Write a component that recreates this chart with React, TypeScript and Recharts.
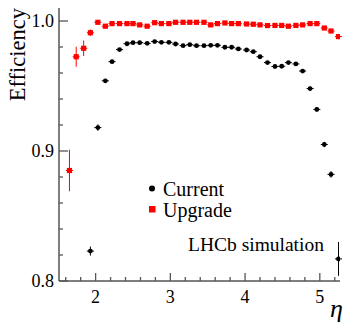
import React from 'react';
import { ScatterChart, Scatter, XAxis, YAxis, ErrorBar } from 'recharts';

// bin centres in eta
const eta = [1.65, 1.74, 1.84, 1.93, 2.03, 2.13, 2.22, 2.32, 2.42, 2.5, 2.59, 2.69, 2.79, 2.88, 2.98, 3.07, 3.17, 3.26, 3.35, 3.45, 3.54, 3.63, 3.73, 3.82, 3.91, 4.02, 4.11, 4.2, 4.3, 4.4, 4.49, 4.58, 4.68, 4.77, 4.87, 4.96, 5.06, 5.15, 5.25];
const halfBin = 0.047;

const upgradeEff = [0.885, 0.9725, 0.979, 0.991, 0.999, 0.996, 0.998, 0.998, 0.998, 0.998, 0.997, 0.996, 0.9987, 0.998, 0.998, 0.999, 0.999, 0.999, 0.999, 0.999, 0.997, 0.998, 0.9985, 0.998, 0.998, 0.9977, 0.9975, 0.997, 0.9965, 0.9966, 0.9966, 0.996, 0.9966, 0.997, 0.998, 0.998, 0.9946, 0.9923, 0.988];
const upgradeErr = [0.016, 0.0077, 0.006, 0.0025, 0.001, 0.001, 0.001, 0.001, 0.001, 0.001, 0.001, 0.001, 0.001, 0.001, 0.001, 0.001, 0.001, 0.001, 0.001, 0.001, 0.001, 0.001, 0.001, 0.001, 0.001, 0.001, 0.001, 0.001, 0.001, 0.001, 0.001, 0.001, 0.001, 0.001, 0.001, 0.001, 0.001, 0.0015, 0.002];

// current detector starts at the 4th bin
const currentEta = eta.slice(3);
const currentEff = [0.823, 0.918, 0.954, 0.9687, 0.978, 0.9825, 0.9833, 0.9833, 0.9828, 0.9842, 0.9836, 0.9836, 0.9823, 0.981, 0.9818, 0.981, 0.981, 0.9813, 0.9813, 0.9798, 0.9798, 0.9785, 0.9777, 0.9764, 0.9725, 0.968, 0.965, 0.9652, 0.968, 0.967, 0.9615, 0.948, 0.932, 0.905, 0.882, 0.817];
const currentErr = [0.0035, 0.0025, 0.0015, 0.0012, 0.001, 0.001, 0.001, 0.001, 0.001, 0.001, 0.001, 0.001, 0.001, 0.001, 0.001, 0.001, 0.001, 0.001, 0.001, 0.001, 0.001, 0.001, 0.001, 0.001, 0.001, 0.001, 0.001, 0.001, 0.001, 0.001, 0.0012, 0.0015, 0.0018, 0.002, 0.0025, 0.013];

const xMajor = [2, 3, 4, 5];
const xTicks = [1.6, 1.8, 2, 2.2, 2.4, 2.6, 2.8, 3, 3.2, 3.4, 3.6, 3.8, 4, 4.2, 4.4, 4.6, 4.8, 5, 5.2];
const yMajor = [0.8, 0.9, 1.0];
const yTicks = [0.8, 0.82, 0.84, 0.86, 0.88, 0.9, 0.92, 0.94, 0.96, 0.98, 1.0];

const upgradeData = eta.map((x, i) => ({ x, y: upgradeEff[i], ey: upgradeErr[i], ex: halfBin }));
const currentData = currentEta.map((x, i) => ({ x, y: currentEff[i], ey: currentErr[i], ex: halfBin }));

const AX = '#555';
const FONT = '"Liberation Serif", "DejaVu Serif", serif';

const isMajor = (v: number, list: number[]) => list.some((m) => Math.abs(m - v) < 1e-6);
const fmtY = (v: number) => v.toFixed(1);

const BottomTick = (p: any) => {
  const { x, y, payload } = p;
  const v = payload.value;
  const major = isMajor(v, xMajor);
  return (
    <g>
      <line x1={x} x2={x} y1={y} y2={y - (major ? 8 : 4)} stroke={AX} strokeWidth={1.3} />
      {major && (
        <text x={x} y={y + 22} textAnchor="middle" fontSize={18} fontFamily={FONT} fill="#000">
          {v}
        </text>
      )}
    </g>
  );
};
const TopTick = (p: any) => {
  const { x, y, payload } = p;
  const major = isMajor(payload.value, xMajor);
  return <line x1={x} x2={x} y1={y} y2={y + (major ? 8 : 4)} stroke={AX} strokeWidth={1.3} />;
};
const LeftTick = (p: any) => {
  const { x, y, payload } = p;
  const v = payload.value;
  const major = isMajor(v, yMajor);
  return (
    <g>
      <line x1={x} x2={x + (major ? 9 : 4)} y1={y} y2={y} stroke={AX} strokeWidth={1.3} />
      {major && (
        <text x={x - 5} y={y + 6} textAnchor="end" fontSize={18} fontFamily={FONT} fill="#000">
          {fmtY(v)}
        </text>
      )}
    </g>
  );
};
const RightTick = (p: any) => {
  const { x, y, payload } = p;
  const major = isMajor(payload.value, yMajor);
  return <line x1={x} x2={x - (major ? 9 : 4)} y1={y} y2={y} stroke={AX} strokeWidth={1.3} />;
};

const CircleMark = (p: any) => {
  const { cx, cy } = p;
  if (cx == null || cy == null) return null;
  return <circle cx={cx} cy={cy} r={2.4} fill="#000" />;
};
const SquareMark = (p: any) => {
  const { cx, cy } = p;
  if (cx == null || cy == null) return null;
  return <rect x={cx - 2.6} y={cy - 2.6} width={5.2} height={5.2} fill="#ff0000" />;
};

export default function App() {
  const W = 343;
  const H = 329;
  return (
    <div style={{ position: 'absolute', left: 0, top: 0, width: W, height: H, background: '#fff' }}>
      <ScatterChart width={W} height={H} margin={{ top: 8, right: 3, left: 0, bottom: 0 }}>
        <XAxis
          xAxisId="b"
          type="number"
          dataKey="x"
          domain={[1.51, 5.27]}
          allowDataOverflow
          ticks={xTicks}
          interval={0}
          tickSize={0}
          tickMargin={0}
          tick={<BottomTick />}
          axisLine={{ stroke: AX, strokeWidth: 1.5 }}
          height={48}
        />
        <XAxis
          xAxisId="t"
          orientation="top"
          type="number"
          dataKey="x"
          domain={[1.51, 5.27]}
          allowDataOverflow
          ticks={xTicks}
          interval={0}
          tickSize={0}
          tickMargin={0}
          tick={<TopTick />}
          axisLine={{ stroke: AX, strokeWidth: 1.5 }}
          height={0}
        />
        <YAxis
          yAxisId="l"
          type="number"
          dataKey="y"
          domain={[0.8, 1.01]}
          allowDataOverflow
          ticks={yTicks}
          interval={0}
          tickSize={0}
          tickMargin={0}
          tick={<LeftTick />}
          axisLine={{ stroke: AX, strokeWidth: 1.5 }}
          width={59}
        />
        <YAxis
          yAxisId="r"
          orientation="right"
          type="number"
          dataKey="y"
          domain={[0.8, 1.01]}
          allowDataOverflow
          ticks={yTicks}
          interval={0}
          tickSize={0}
          tickMargin={0}
          tick={<RightTick />}
          axisLine={{ stroke: AX, strokeWidth: 1.5 }}
          width={0}
        />
        <Scatter xAxisId="b" yAxisId="l" data={currentData} dataKey="y" shape={<CircleMark />} isAnimationActive={false}>
          <ErrorBar dataKey="ey" direction="y" width={0} stroke="#000" strokeWidth={1} />
          <ErrorBar dataKey="ex" direction="x" width={0} stroke="#000" strokeWidth={1} />
        </Scatter>
        <Scatter xAxisId="b" yAxisId="l" data={upgradeData} dataKey="y" shape={<SquareMark />} isAnimationActive={false}>
          <ErrorBar dataKey="ey" direction="y" width={0} stroke="#ff0000" strokeWidth={1} />
          <ErrorBar dataKey="ex" direction="x" width={0} stroke="#ff0000" strokeWidth={1} />
        </Scatter>
      </ScatterChart>
      <svg width={W} height={H} style={{ position: 'absolute', left: 0, top: 0, pointerEvents: 'none' }}>
        <text transform="translate(25,8) rotate(-90)" textAnchor="end" fontSize={22.5} fontFamily={FONT} fill="#000">
          Efficiency
        </text>
        <text x={330} y={317} fontSize={26} fontStyle="italic" fontFamily={FONT} fill="#000">
          η
        </text>
        <circle cx={152} cy={188.5} r={3} fill="#000" />
        <text x={163} y={196} fontSize={20} fontFamily={FONT} fill="#000">
          Current
        </text>
        <rect x={149} y={206} width={6.5} height={6.5} fill="#ff0000" />
        <text x={163} y={217} fontSize={20} fontFamily={FONT} fill="#000">
          Upgrade
        </text>
        <text x={188} y={251} fontSize={19.5} fontFamily={FONT} fill="#000">
          LHCb simulation
        </text>
      </svg>
    </div>
  );
}
